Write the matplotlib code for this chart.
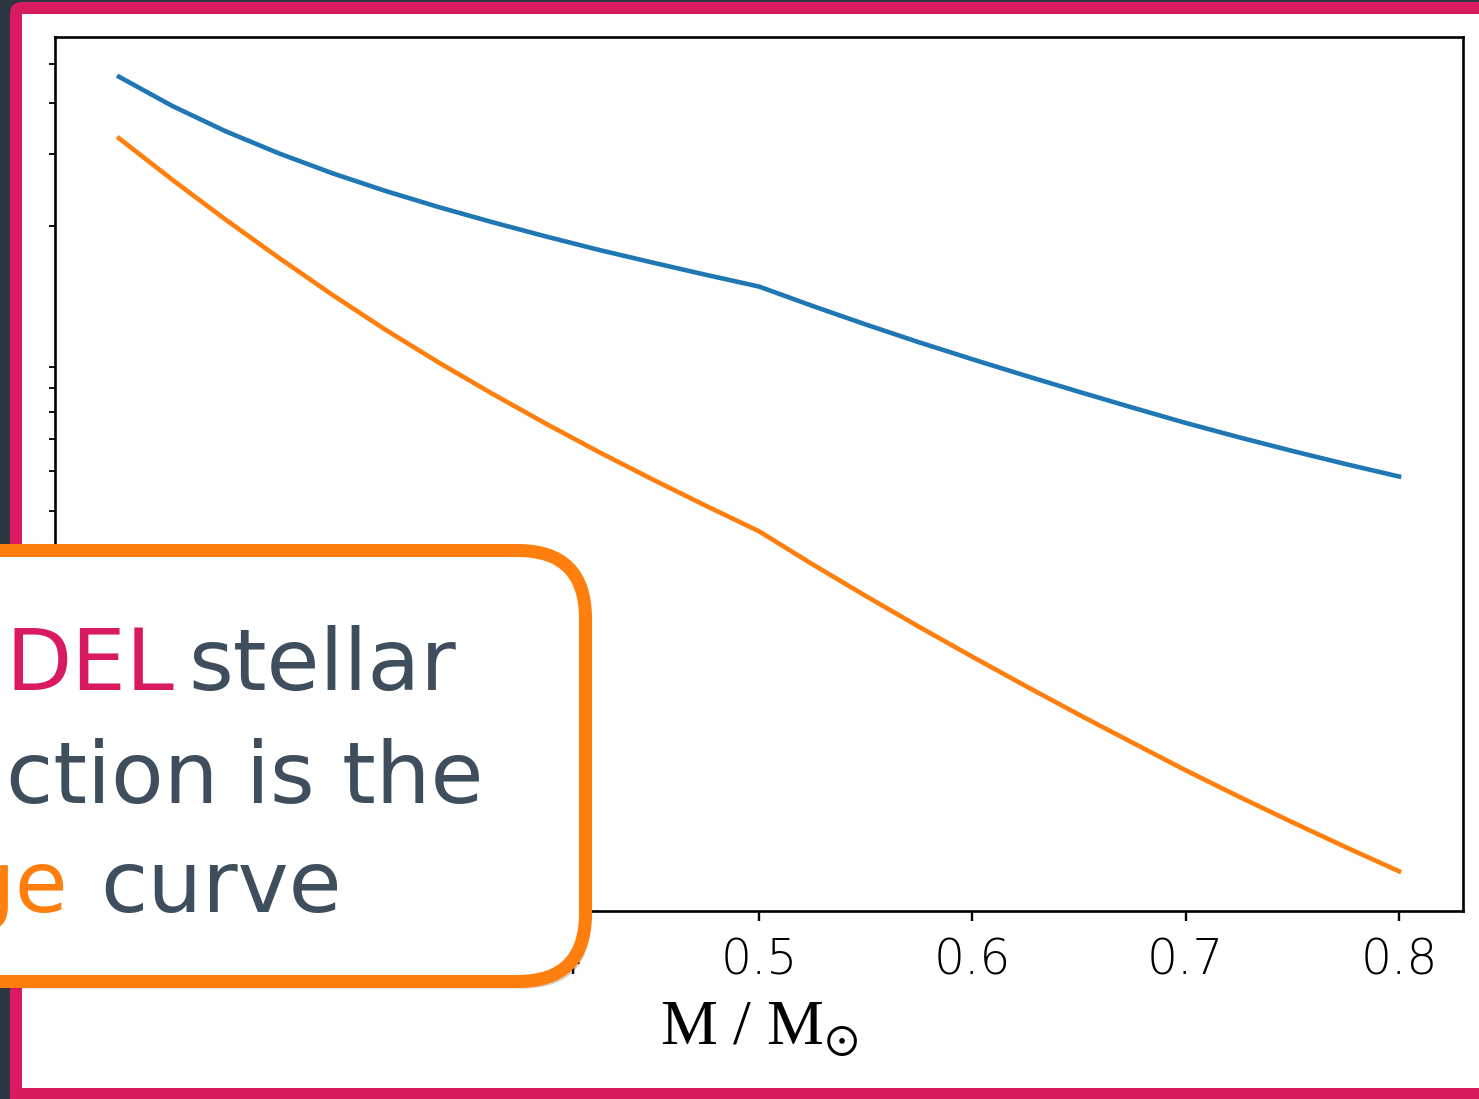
import matplotlib
matplotlib.use("Agg")
import matplotlib.pyplot as plt
from matplotlib.patches import FancyBboxPatch, Rectangle
from matplotlib.transforms import IdentityTransform

# ---- data -------------------------------------------------------------
mass = [0.200, 0.225, 0.250, 0.275, 0.300, 0.325, 0.350, 0.375, 0.400,
        0.425, 0.450, 0.475, 0.500, 0.525, 0.550, 0.575, 0.600, 0.625,
        0.650, 0.675, 0.700, 0.725, 0.750, 0.775, 0.800]
blue_curve = [4.654, 3.944, 3.418, 3.016, 2.696, 2.438, 2.225, 2.044, 1.886,
              1.747, 1.627, 1.518, 1.420, 1.273, 1.146, 1.036, 0.9412, 0.8574,
              0.7829, 0.7161, 0.6565, 0.6053, 0.5602, 0.5202, 0.4848]
orange_curve = [3.286, 2.598, 2.073, 1.670, 1.355, 1.1115, 0.9231, 0.7743, 0.6542,
                0.5567, 0.4772, 0.4111, 0.3557, 0.2952, 0.2467, 0.2072, 0.1749, 0.1482,
                0.1260, 0.1076, 0.0920, 0.07923, 0.06858, 0.05957, 0.05196]
xtick_values = [0.2, 0.3, 0.4, 0.5, 0.6, 0.7, 0.8]
xtick_labels = ["0.2", "0.3", "0.4", "0.5", "0.6", "0.7", "0.8"]
xlabel = r"M / M$_{\odot}$"

callout_lines = [
    [("DEL", "#D81B60"), ("stellar", "#3E4E5C")],
    [("ction is the", "#3E4E5C")],
    [("ge", "#FF7F0E"), ("curve", "#3E4E5C")],
]

# ---- style ------------------------------------------------------------
plt.rcParams["mathtext.fontset"] = "stix"
plt.rcParams["font.family"] = ["DejaVu Sans"]

W, H = 1479, 1099
PX = IdentityTransform()
fig = plt.figure(figsize=(W / 100, H / 100), dpi=100)
fig.patch.set_facecolor("#2B3640")

# slide frame: pink border with white page
fig.add_artist(FancyBboxPatch((10, H - 1150), 1600, 1148,
                              boxstyle="round,pad=0,rounding_size=12",
                              fc="#D81B60", ec="none", zorder=-10, transform=PX))
fig.add_artist(Rectangle((22, H - 1088), 1600, 1074,
                         fc="white", ec="none", zorder=-9, transform=PX))

# ---- chart ------------------------------------------------------------
ax = fig.add_axes([55 / W, (H - 911) / H, (1463 - 55) / W, (911 - 37) / H])
ax.plot(mass, blue_curve, color="#1F77B4", lw=3.3, solid_joinstyle="round")
ax.plot(mass, orange_curve, color="#FF7F0E", lw=3.3, solid_joinstyle="round")
ax.set_yscale("log")

for sp in ax.spines.values():
    sp.set_linewidth(1.9)

ax.set_xticks(xtick_values)
ax.set_xticklabels(xtick_labels, fontsize=35, fontweight="light")
ax.tick_params(axis="x", which="major", length=7.3, width=1.7, pad=11)
ax.tick_params(axis="y", which="major", length=0, labelleft=False)
ax.tick_params(axis="y", which="minor", length=4.2, width=1.3, labelleft=False)
ax.set_xlabel(xlabel, fontsize=46, labelpad=12, family=["Liberation Serif"])

# ---- callout box ------------------------------------------------------
box_x0, box_x1 = -200, 585.5
box_top, box_bot = 550.5, 981.5
fig.add_artist(FancyBboxPatch((box_x0 + 5, H - box_bot - 7), box_x1 - box_x0, box_bot - box_top,
                              boxstyle="round,pad=0,rounding_size=68",
                              fc="black", ec="none", alpha=0.18, zorder=5, transform=PX))
fig.add_artist(FancyBboxPatch((box_x0, H - box_bot), box_x1 - box_x0, box_bot - box_top,
                              boxstyle="round,pad=0,rounding_size=68",
                              fc="white", ec="#FF7F0E", lw=9.4, zorder=6, transform=PX))

line_baselines = [690, 803, 912]
line_starts = [[6, 188], [6], [-40, 100]]
for pieces, base, starts in zip(callout_lines, line_baselines, line_starts):
    for (txt, col), x0 in zip(pieces, starts):
        fig.text(x0, H - base, txt, color=col, fontsize=62,
                 ha="left", va="baseline", transform=PX, zorder=7)

fig.savefig("out.png", dpi=100)
